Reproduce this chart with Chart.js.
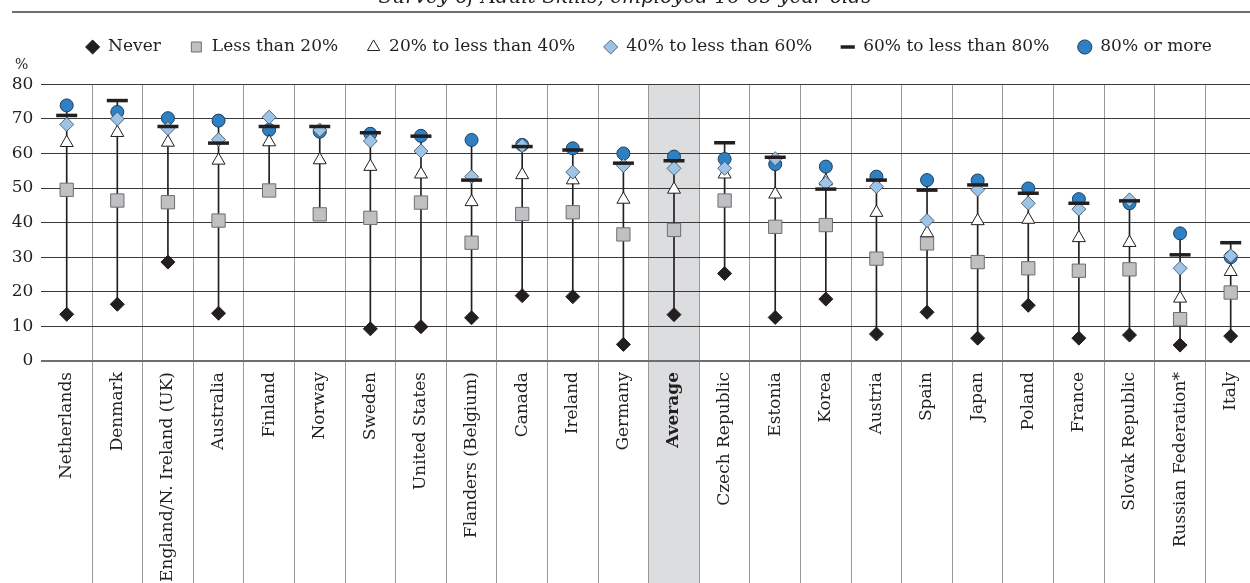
<!DOCTYPE html>
<html><head><meta charset="utf-8">
<script src="https://cdn.jsdelivr.net/npm/chart.js@4.4.1/dist/chart.umd.min.js"></script>
<style>
html,body{margin:0;padding:0;background:#fff;overflow:hidden;width:1250px;height:583px;}
#wrap{position:relative;width:1250px;height:583px;overflow:hidden;}
#title{position:absolute;left:0;width:1250px;top:-14px;text-align:center;font:italic 20px/20px "DejaVu Serif";color:#231f20;white-space:nowrap;}
#rule{position:absolute;left:12px;right:0;top:11px;height:2px;background:#6d6e71;}
canvas{position:absolute;left:0;top:0;}
</style></head><body>
<div id="wrap">
<canvas id="c" width="1256" height="583"></canvas>
<div id="title">Survey of Adult Skills, employed 16-65 year-olds</div>
<div id="rule"></div>
</div>
<script>
const categories = ['Netherlands','Denmark','England/N. Ireland (UK)','Australia','Finland','Norway','Sweden','United States','Flanders (Belgium)','Canada','Ireland','Germany','Average','Czech Republic','Estonia','Korea','Austria','Spain','Japan','Poland','France','Slovak Republic','Russian Federation*','Italy'];
const seriesNames = ['Never','Less than 20%','20% to less than 40%','40% to less than 60%','60% to less than 80%','80% or more'];
const never    = [13.5,16.4,28.6,13.8,null,null,9.3,9.9,12.5,18.9,18.6,4.8,13.4,25.3,12.6,17.9,7.8,14.1,6.6,16.1,6.6,7.5,4.6,7.2];
const lt20     = [49.5,46.4,45.9,40.6,49.3,42.4,41.4,45.8,34.2,42.5,43.0,36.6,37.9,46.4,38.8,39.3,29.6,34.0,28.6,26.8,26.1,26.5,12.1,19.8];
const p20to40  = [63.1,66.0,63.2,58.0,63.3,58.1,56.2,54.0,46.0,53.8,52.3,46.7,49.6,54.0,48.2,52.0,42.9,37.0,40.5,40.9,35.6,34.2,18.1,25.8];
const p40to60  = [68.4,70.0,67.2,64.0,70.5,66.8,63.6,60.7,53.3,62.3,54.6,56.5,55.7,55.7,58.5,51.4,50.4,40.6,49.5,45.6,43.9,46.6,26.8,30.4];
const p60to80  = [71.0,75.3,67.8,63.0,67.8,67.8,66.0,65.0,52.3,62.0,61.0,57.2,57.9,63.1,58.9,49.7,52.3,49.4,50.9,48.5,45.6,46.3,30.7,34.2];
const p80plus  = [73.9,72.0,70.2,69.5,66.8,66.3,65.7,65.1,63.9,62.5,61.5,60.0,59.1,58.4,56.9,56.2,53.3,52.3,52.2,49.9,46.8,45.6,36.9,30.0];
const yTicks = {min: 0, max: 80, step: 10};
const yUnit = '%';
const highlight = 'Average';

const allSeries = [never, lt20, p20to40, p40to60, p60to80, p80plus];
const ranges = categories.map((_, i) => {
  const v = allSeries.map(s => s[i]).filter(x => x !== null && x !== undefined);
  return [Math.min(...v), Math.max(...v)];
});

const FONT = 'DejaVu Serif';
const INK = '#231f20';

const bandPlugin = {
  id: 'band',
  beforeDraw(chart) {
    const x = chart.scales.x;
    const idx = categories.indexOf(highlight);
    const c = x.getPixelForValue(idx);
    const half = (x.getPixelForValue(1) - x.getPixelForValue(0)) / 2;
    const ctx = chart.ctx;
    ctx.save();
    ctx.fillStyle = '#dcdddf';
    ctx.fillRect(c - half, chart.chartArea.top, 2 * half, chart.height - chart.chartArea.top);
    ctx.restore();
  }
};

const unitPlugin = {
  id: 'unit',
  afterDraw(chart) {
    const y = chart.scales.y;
    const ctx = chart.ctx;
    ctx.save();
    ctx.fillStyle = INK;
    ctx.font = '14px "' + FONT + '"';
    ctx.textAlign = 'left';
    ctx.textBaseline = 'middle';
    ctx.fillText(yUnit, y.left + 15, chart.chartArea.top - 19);
    ctx.restore();
  }
};

function pts(label, data, style, radius, bg, border, bw, order) {
  return {type: 'line', label, data, showLine: false, pointStyle: style, pointRadius: radius,
    pointHoverRadius: radius, pointBackgroundColor: bg, pointBorderColor: border,
    pointBorderWidth: bw, backgroundColor: bg, borderColor: border, borderWidth: bw, order, clip: false};
}

new Chart(document.getElementById('c'), {
  type: 'bar',
  data: {
    labels: categories,
    datasets: [
      {type: 'bar', label: 'range', data: ranges, backgroundColor: INK, barThickness: 1, borderWidth: 0, order: 7, grouped: false},
      pts(seriesNames[0], never, 'rectRot', 7, INK, INK, 1, 6),
      pts(seriesNames[1], lt20, 'rect', 9.4, '#bfc0c2', '#6d6e71', 1, 5),
      pts(seriesNames[2], p20to40, 'triangle', 7.5, '#ffffff', INK, 1, 3),
      pts(seriesNames[3], p40to60, 'rectRot', 7, '#9dc3e6', '#3a4a5a', 0.8, 2),
      pts(seriesNames[4], p60to80, 'line', 10.5, INK, INK, 3.5, 1),
      pts(seriesNames[5], p80plus, 'circle', 6.5, '#2e80c2', '#1d3f5e', 1, 4)
    ]
  },
  options: {
    responsive: false,
    devicePixelRatio: 1,
    animation: false,
    events: [],
    layout: {autoPadding: false, padding: {left: 0, top: 10, right: 0, bottom: 0}},
    scales: {
      x: {
        type: 'category',
        offset: true,
        grid: {
          offset: true,
          drawTicks: true,
          tickLength: 222,
          color: c => c.index === 0 ? 'rgba(0,0,0,0)' : '#9a9a9a',
          tickColor: c => c.index === 0 ? 'rgba(0,0,0,0)' : '#9a9a9a',
          lineWidth: 1
        },
        border: {display: false},
        ticks: {
          autoSkip: false, maxRotation: 90, minRotation: 90,
          padding: 11 - 222,
          color: INK,
          font: c => ({family: FONT, size: 17, weight: categories[c.index] === highlight ? 'bold' : 'normal'})
        },
        afterFit: s => { s.height = 222; }
      },
      y: {
        min: yTicks.min, max: yTicks.max,
        ticks: {stepSize: yTicks.step, padding: 8, color: INK, font: {family: FONT, size: 17}},
        grid: {
          drawTicks: false,
          color: c => (c.tick && c.tick.value === 0) ? '#6d6e71' : '#3a3a3a',
          lineWidth: c => (c.tick && c.tick.value === 0) ? 2 : 1
        },
        border: {display: false},
        afterFit: s => { s.width = 41.4; }
      }
    },
    plugins: {
      tooltip: {enabled: false},
      legend: {
        position: 'top',
        fullSize: false,
        labels: {
          usePointStyle: true, boxWidth: 14, boxHeight: 10, padding: 28.5,
          color: INK, font: {family: FONT, size: 17},
          filter: item => item.datasetIndex !== 0,
          sort: (a, b) => a.datasetIndex - b.datasetIndex
        }
      },
      subtitle: {
        display: true, text: '', position: 'top', weight: 500, fullSize: true,
        font: {family: FONT, size: 14}, padding: {top: 0, bottom: 2}
      }
    }
  },
  plugins: [bandPlugin, unitPlugin]
});
</script>
</body></html>
